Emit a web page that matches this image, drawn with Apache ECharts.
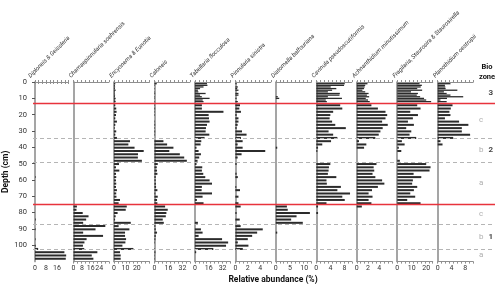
<!DOCTYPE html>
<html><head><meta charset="utf-8">
<script src="https://cdn.jsdelivr.net/npm/echarts@6/dist/echarts.min.js"></script>
<style>html,body{margin:0;padding:0;background:#fff}#c{width:500px;height:289px}</style>
</head><body><div id="c"></div>
<script>
// ---------------- DATA ----------------
const taxa = ['Diploneis & Geissleria', 'Chamaepinnularia soehrensis', 'Encyonema & Eunotia', 'Caloneis',
  'Tabellaria flocculosa', 'Pinnularia sinistra', 'Diatomella balfouriana', 'Cavinula pseudoscutiformis',
  'Achnanthidium minutissimum', 'Fragilaria, Staurosira & Staurosirella', 'Planothidium oestrupii'];

// sample depths (cm): 1-cm samples in zone 3, 2-cm samples below
const sampleDepths = [1.25,2.25,3.25,4.25,5.25,6.25,7.25,8.25,9.25,10.25,11.25,12.25,
  14.25,16.25,18.25,20.25,22.25,24.25,26.25,28.25,30.25,32.25,34.25,36.25,38.25,40.25,42.25,44.25,
  46.25,48.25,50.25,52.25,54.25,56.25,58.25,60.25,62.25,64.25,66.25,68.25,70.25,72.25,74.25,76.25,
  78.25,80.25,82.25,84.25,86.25,88.25,90.25,92.25,94.25,96.25,98.25,100.25,102.25,104.25,106.25,108.25];

const diploneis = [0,0,0,0,0,0,0,0,0,0,0,0,
  0,0,0,0,0,0,0,0,0,0, 0,0,0,0,0,0,0,0,0,0, 0,0,0.4,0,0,0,0,0,0,0,
  0,0,0,0,0,0.5,0,0,0.4,0, 0,0.4,0,0.5,2.3,21.5,22.8,22.5];
const chamaepinnularia = [0,0,0,0,0,0,0,0,0,0,0,0,
  0,0,0,0,0,0,0,0,0,0, 0,0,0,0,0,0,0,0,0,0, 0,0,0,0,0,0,0,0,0,0,
  0,3.2,2.8,8.6,14,11.8,9,29.6,20.5,9, 27.5,12.2,10.2,8.8,10,22.2,17,18.5];
const encyonema = [1.2,0.8,1,0.8,1.5,0.8,0.6,1,0.8,1.5,1.2,1.5,
  1.2,2,2.3,1.8,1.2,2.6,1.2,0.6,2,1.2, 2.6,14,12.6,18,26,21,20.9,24.4,4.4,1.8,
  4.7,1.8,2,1.8,2,1.8,2.6,2,2.2,5.3, 4.1,11.2,10.3,3.2,1.5,1,14.7,4.1,13.5,9.7,
  9.7,10.6,10,7.4,17,5.3,5.9,5.9];
const caloneis = [2.7,0.5,0,0.5,0,0.5,0.8,0,0.5,0.5,0,0.5,
  0.5,0.8,0.5,0.5,0,0.5,0.8,0.5,0.8,0.5, 0,10.3,14.5,21.7,17,29,34,37,3.8,2.7,
  3,3.4,1.5,1.5,1.7,1.9,3.4,1.1,3.8,3, 3.4,12.2,15.2,13.7,13,9.5,10.7,1.1,1.5,3,
  1.5,1.1,0.5,0,0.5,1.1,0.5,0.5];
const tabellaria = [14,14.5,10,6,3.5,4,12.4,6,8,17,9,10,
  8.1,8.1,33,15.9,16.3,17,14,12.8,12.4,16.7, 11.2,7.4,6.6,1.9,4.3,7,5,3.1,1.9,8.5,
  8.1,9.7,12,17,19.8,8.1,7.8,19.8,8.9,2.3, 10,0,0,0,0,0,3.5,0,7,8.9,
  4.3,31.4,38.4,36,21.3,1.5,0,0];
const pinnularia = [0.2,0,0.4,0.3,0.5,0,0.5,0.5,0,0.2,0,0.4,
  0.75,0.64,0.9,0.2,0.5,0.5,0.37,0.2,1.07,1.8, 0.9,1.17,0.37,1.17,4.8,1,0.37,0,0.2,0,
  0,0.2,0.4,0,0,0.15,0.75,0,0.5,0, 0.5,0.85,0,0.2,0,0.7,0,0.85,4.4,3.5,
  2.7,2,0.4,2.1,1.2,0,0,0];
const diatomella = [0,0,0,0,0,0,0,0,0.7,1.2,0,0,
  0,0,0,0,0,0,0,0,0,0, 0,0,0,0.5,0,0,0,0,0,0,
  0,0,0,0,0,0,0,0,0,0, 0,3.9,4.2,12,7.3,5.4,9.5,0,0,0.5,
  0,0,0,0,0,0,0,0];
const cavinula = [8.1,7.9,4.1,5.7,4.5,3.3,6.7,6.6,3.3,7.3,2.7,3,
  6.8,7.4,4.8,4,3.8,4.5,5.4,8.4,3.5,4.8, 6,4.2,1.7,0.5,0.3,0,0,0,4,3.6,
  3.5,3.3,5.7,2.9,3,7,6,9.6,7.4,8.1, 2.9,0.5,0,0.5,0,0,0,0,0,0,
  0,0,0,0,0,0,0,0];
const achnanthidium = [1.9,1.5,1.4,1.3,1,1.5,2.1,1.8,2.2,1.6,2,2.3,
  2.6,3.75,5.1,5.4,5.1,4.5,5.5,4.6,4.2,3.9, 3.3,0.4,1.7,1.3,0,0,0,0,3.5,3,
  3.1,2.8,3.3,4.5,4.9,3.75,2.7,2.1,2.8,2.1, 2.6,0.9,0,0,0,0,0,0,0,0,
  0,0,0,0,0,0,0,0];
const fragilaria = [15.4,17,16.2,13.8,17.2,9.5,14.3,13.5,15.8,18.5,20,23.4,
  13.8,16.1,9,14.3,10.8,7.4,11.5,6.2,9.7,8.5, 13.1,3.2,5.1,1.1,2.8,0,0,1.8,20,23,
  22.3,11.3,16.6,10.8,10.3,13.8,11.5,9,12.4,6.9, 16.1,0,0,0,0,0,0,0,0,0,
  0,0,0,0,0,0,0,0];
const planothidium = [3.7,2.1,2.2,2.3,5.7,1.8,2.6,3.7,7.4,2.7,0.8,2.6,
  4.3,3.8,3.4,3.7,2.1,6.2,8.9,7,7,9.4, 4.5,0.8,1.4,0,0,0,0,0,0,0,
  0,0,0,0,0,0,0,0,0,0, 0,0,0,0,0,0,0,0,0,0,
  0,0,0,0,0,0,0,0];

const axisMax = [24.5, 33, 31, 40.5, 41, 5.7, 12.5, 10.1, 6.3, 24.5, 10.3];
const tickLabels = [[0,8,16],[0,8,16,24],[0,10,20],[0,16,32],[0,16,32],[0,2,4],[0,5,10],[0,4,8],[0,2,4],[0,10,20],[0,4,8]];
const depthTicks = [0,10,20,30,40,50,60,70,80,90,100];
const redLines = [13, 75];
const dashedLines = [34.5, 49, 87, 102.5];
const zoneLetters = ['c','b','a','c','b','a'];
const zoneLetterDepths = [23.5, 41.8, 62, 81, 94.8, 106];
const zoneNumbers = ['3','2','1'];
const zoneNumberDepths = [6.5, 41.8, 94.8];

// ---------------- LAYOUT ----------------
const allSeries = [diploneis, chamaepinnularia, encyonema, caloneis, tabellaria, pinnularia,
  diatomella, cavinula, achnanthidium, fragilaria, planothidium];
const L0 = 33, STEP = 40.47, PW = 35.5, TOP = 82, PH = 179.6, DEPTH_MAX = 110;
const NCAT = 220; // 0.5 cm bands
const cats = Array.from({length: NCAT}, (_, k) => String(k));
const FONT = 'Roboto';
const BAR = '#2b2b2b', AX = '#8f8f8f';
const nTop = 12;

const grid = [], xAxis = [], yAxis = [], series = [], graphic = [];
allSeries.forEach((vals, i) => {
  const left = L0 + STEP * i;
  grid.push({left: left, top: TOP, width: PW, height: PH});
  const ruler = Array.from({length: 10}, (_, k) => k * axisMax[i] / 9);
  xAxis.push({type: 'value', gridIndex: i, position: 'bottom', min: 0, max: axisMax[i],
    axisLine: {show: true, lineStyle: {color: AX, width: 1}},
    axisTick: {show: true, customValues: ruler, length: 2, lineStyle: {color: AX}},
    axisLabel: {show: true, customValues: tickLabels[i], fontSize: 7, color: '#333', margin: 3, fontFamily: FONT},
    splitLine: {show: false}});
  xAxis.push({type: 'value', gridIndex: i, position: 'top', min: 0, max: axisMax[i],
    axisLine: {show: true, lineStyle: {color: AX, width: 1}},
    axisTick: {show: true, customValues: ruler, length: 2, lineStyle: {color: AX}},
    axisLabel: {show: false}, splitLine: {show: false}});
  yAxis.push({type: 'category', gridIndex: i, data: cats, inverse: true,
    axisLine: {show: true, lineStyle: {color: AX, width: 1.6}},
    axisTick: {show: false}, axisLabel: {show: false}, splitLine: {show: false}});
  const topData = new Array(NCAT).fill(null), lowData = new Array(NCAT).fill(null);
  sampleDepths.forEach((d, s) => {
    const k = Math.round((d - 0.25) * 2);
    if (vals[s] > 0) (s < nTop ? topData : lowData)[k] = vals[s];
  });
  series.push({type: 'bar', xAxisIndex: 2 * i, yAxisIndex: i, data: topData, barWidth: 1.3,
    barGap: '-100%', itemStyle: {color: BAR}, silent: true});
  series.push({type: 'bar', xAxisIndex: 2 * i, yAxisIndex: i, data: lowData, barWidth: 2,
    barGap: '-100%', itemStyle: {color: BAR}, silent: true});
  graphic.push({type: 'text', x: left - 1.5, y: 79, rotation: Math.PI / 4,
    style: {text: taxa[i], fontSize: 6, fontStyle: 'italic', fontFamily: FONT, fill: '#333',
      align: 'left', verticalAlign: 'bottom'}});
});

// depth axis (grid 0)
yAxis.push({type: 'value', gridIndex: 0, position: 'left', offset: 6, min: 0, max: DEPTH_MAX, inverse: true,
  axisLine: {show: false},
  axisTick: {show: true, customValues: depthTicks, length: 3, lineStyle: {color: '#555'}},
  axisLabel: {show: true, customValues: depthTicks, fontSize: 7.5, color: '#333', margin: 2, fontFamily: FONT},
  splitLine: {show: false},
  name: 'Depth (cm)', nameLocation: 'middle', nameRotate: 90, nameGap: 19,
  nameTextStyle: {fontSize: 8.5, fontWeight: 'bold', color: '#111', fontFamily: FONT}});

// overlay grid for zone boundaries and labels
const OV = allSeries.length;
grid.push({left: L0, top: TOP, width: 462, height: PH});
xAxis.push({type: 'value', gridIndex: OV, min: 0, max: 1, show: false});
yAxis.push({type: 'value', gridIndex: OV, min: 0, max: DEPTH_MAX, inverse: true, show: false});
const ovX = xAxis.length - 1, ovY = yAxis.length - 1;
const zoneData = zoneLetters.map((t, j) => ({name: t, value: [0.97, zoneLetterDepths[j]],
  label: {color: '#9a9a9a', fontSize: 8}}))
  .concat(zoneNumbers.map((t, j) => ({name: t, value: [0.991, zoneNumberDepths[j]],
  label: {color: '#111', fontSize: 8, fontWeight: 'bold'}})));
series.push({type: 'scatter', xAxisIndex: ovX, yAxisIndex: ovY, symbolSize: 0, silent: true, z: 5,
  data: zoneData,
  label: {show: true, position: 'inside', formatter: p => p.name, fontFamily: FONT},
  markLine: {silent: true, symbol: ['none', 'none'], label: {show: false},
    data: redLines.map(v => ({yAxis: v, lineStyle: {color: '#e8333c', width: 1.3, type: 'solid'}}))
      .concat(dashedLines.map(v => ({yAxis: v, lineStyle: {color: '#b5b5b5', width: 1, type: [4, 3]}})))}});

graphic.push({type: 'text', x: 273, y: 280, style: {text: 'Relative abundance (%)', fontSize: 8.5,
  fontWeight: 'bold', fontFamily: FONT, fill: '#111', align: 'center', verticalAlign: 'middle'}});
graphic.push({type: 'text', x: 487, y: 67, style: {text: 'Bio', fontSize: 7.5,
  fontWeight: 'bold', fontFamily: FONT, fill: '#111', align: 'center', verticalAlign: 'middle'}});
graphic.push({type: 'text', x: 487, y: 77, style: {text: 'zone', fontSize: 7.5,
  fontWeight: 'bold', fontFamily: FONT, fill: '#111', align: 'center', verticalAlign: 'middle'}});

const chart = echarts.init(document.getElementById('c'), null, {renderer: 'canvas'});
chart.setOption({animation: false, backgroundColor: '#fff', grid, xAxis, yAxis, series, graphic});
</script></body></html>
